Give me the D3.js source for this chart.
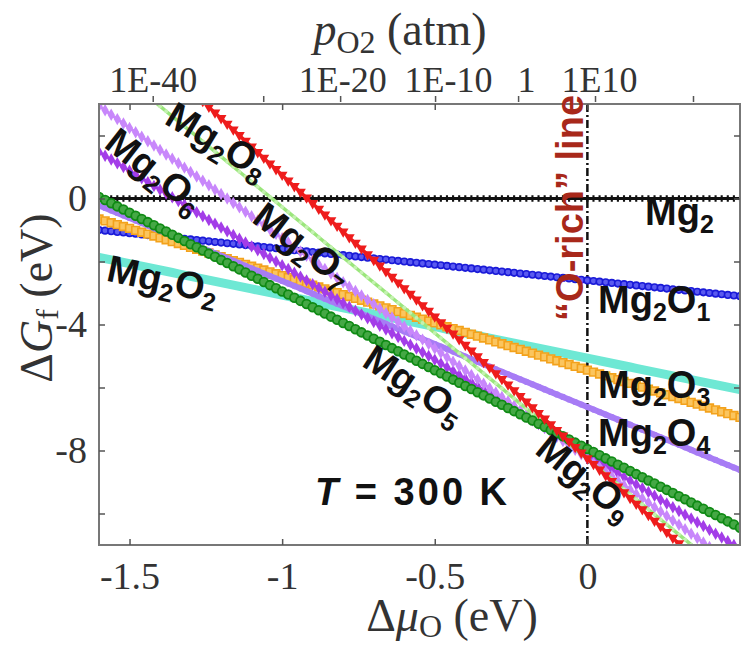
<!DOCTYPE html>
<html>
<head>
<meta charset="utf-8">
<script src="https://cdn.jsdelivr.net/npm/d3@7"></script>
<style>
  body { margin: 0; background: #fff; }
  .lbl { font-family: "Liberation Sans", Arial, sans-serif; font-weight: bold; font-size: 38px; fill: #111; }
</style>
</head>
<body>
<svg id="chart" width="742" height="648"></svg>
<script>
// Mg2On formation free energy vs oxygen chemical potential (T = 300 K)
var species = ["Mg2", "Mg2O1", "Mg2O2", "Mg2O3", "Mg2O4", "Mg2O5", "Mg2O6", "Mg2O7", "Mg2O8", "Mg2O9"];
var nOxygen = [0, 1, 2, 3, 4, 5, 6, 7, 8, 9];
var dGatZero = [0, -2.6, -5.07, -5.45, -6.62, -7.95, -8.12, -8.26, -8.27, -8.25];   // eV at dmu = 0

var xTicks = [-1.5, -1, -0.5, 0];
var yTicks = [2, 0, -2, -4, -6, -8, -10];
var yLabelled = [0, -4, -8];
var pTickMu = [-1.424, -1.062, -0.81, -0.499, -0.227, 0.025, 0.346];
var pTickLabels = ["1E-40", "", "1E-20", "1E-10", "1", "1E10", ""];
var pLabelShift = [0, 0, 2, 13, 8, 4, 0];

// label anchors in data units
var tiltLabels = [
  { n: 8, mu: -1.21, g: 1.85, angle: 31 },
  { n: 6, mu: -1.415, g: 0.90, angle: 38 },
  { n: 7, mu: -0.93, g: -1.45, angle: 37 },
  { n: 5, mu: -0.565, g: -5.9, angle: 33 },
  { n: 9, mu: -0.005, g: -8.85, angle: 39 },
  { n: 2, mu: -1.39, g: -2.55, angle: 12 }
];
var flatLabels = [
  { n: 0, mu: 0.189, g: -0.84 },
  { n: 1, mu: 0.035, g: -3.63 },
  { n: 3, mu: 0.035, g: -6.33 },
  { n: 4, mu: 0.035, g: -7.86 }
];

// styles
var lineColor = ["#111", "#1a1ad8", "#6ee8d4", "#f3a21c", "#a77cf5", "#0f8a14", "#a33de8", "#c887fb", "#9be67c", "#ee1c1c"];
var lineWidth = [3, 3, 9, 4, 6, 2.5, 3, 3, 3.5, 3];
var drawOrder = [0, 2, 1, 3, 4, 6, 7, 8, 5, 9];

var svg = d3.select("#chart"),
    width = +svg.attr("width"),
    height = +svg.attr("height");
var margin = { top: 104, right: 2, bottom: 103, left: 99 };

var x = d3.scaleLinear().domain([-1.6, 0.5]).range([margin.left, width - margin.right]);
var y = d3.scaleLinear().domain([-11, 3]).range([height - margin.bottom, margin.top]);

svg.append("defs").append("clipPath").attr("id", "clip")
  .append("rect")
  .attr("x", x(-1.6)).attr("y", y(3))
  .attr("width", x(0.5) - x(-1.6)).attr("height", y(-11) - y(3));

var plot = svg.append("g").attr("clip-path", "url(#clip)");

var grid = d3.range(-1.6, 0.5001, 0.02);
var line = d3.line().x(function(d) { return x(d.mu); }).y(function(d) { return y(d.g); });

// O-rich vertical line
plot.append("line")
  .attr("x1", x(0)).attr("x2", x(0)).attr("y1", y(3)).attr("y2", y(-11))
  .attr("stroke", "#111").attr("stroke-width", 2.5)
  .attr("stroke-dasharray", "8,3,2,3");

drawOrder.forEach(function(i) {
  var pts = grid.map(function(mu) { return { mu: mu, g: dGatZero[i] - nOxygen[i] * mu }; });
  var g = plot.append("g");
  g.append("path").datum(pts)
    .attr("d", line)
    .attr("fill", "none")
    .attr("stroke", lineColor[i])
    .attr("stroke-width", lineWidth[i]);

  var sym = null, size = 0, fill = lineColor[i], stroke = "none", sw = 0;
  if (i === 0) { sym = d3.symbolCross; size = 22; }
  if (i === 1) { sym = d3.symbolCircle; size = 34; fill = "#5a5af0"; stroke = lineColor[i]; sw = 1.6; }
  if (i === 3) { sym = d3.symbolSquare; size = 60; fill = "#fbc55e"; stroke = lineColor[i]; sw = 1.6; }
  if (i === 4) { sym = d3.symbolCircle; size = 30; }
  if (i === 5) { sym = d3.symbolCircle; size = 60; fill = "#45a845"; stroke = lineColor[i]; sw = 1.8; }
  if (i === 6 || i === 7) { sym = d3.symbolDiamond; size = 45; }
  if (i === 8) { sym = d3.symbolCircle; size = 12; fill = "#c4f2b0"; }
  if (i === 9) { sym = d3.symbolTriangle; size = 50; }
  if (sym) {
    g.selectAll(".m").data(pts).enter().append("path")
      .attr("class", "m")
      .attr("d", d3.symbol().type(sym).size(size))
      .attr("transform", function(d) {
        return "translate(" + x(d.mu) + "," + y(d.g) + ")" + (i === 9 ? " rotate(180)" : "");
      })
      .attr("fill", fill)
      .attr("stroke", stroke)
      .attr("stroke-width", sw);
  }
});

// frame and axes
svg.append("rect")
  .attr("x", x(-1.6)).attr("y", y(3))
  .attr("width", x(0.5) - x(-1.6)).attr("height", y(-11) - y(3))
  .attr("fill", "none").attr("stroke", "#777").attr("stroke-width", 2);

var axisStyle = function(g) {
  g.select(".domain").remove();
  g.selectAll(".tick line").attr("stroke", "#555").attr("stroke-width", 1.5);
  g.selectAll(".tick text").attr("fill", "#333")
    .attr("font-family", "Liberation Serif, serif").attr("font-size", 38);
};

svg.append("g")
  .attr("transform", "translate(0," + y(-11) + ")")
  .call(d3.axisBottom(x).tickValues(xTicks).tickSize(-6).tickPadding(17)
    .tickFormat(function(d) { return String(d); }))
  .call(axisStyle);

svg.append("g")
  .attr("transform", "translate(0," + y(3) + ")")
  .call(d3.axisBottom(x).tickValues(xTicks).tickSize(6).tickFormat(""))
  .call(axisStyle);

svg.append("g")
  .attr("transform", "translate(" + x(-1.6) + ",0)")
  .call(d3.axisLeft(y).tickValues(yTicks).tickSize(-6).tickPadding(12)
    .tickFormat(function(d) { return yLabelled.indexOf(d) >= 0 ? String(d) : ""; }))
  .call(axisStyle);

svg.append("g")
  .attr("transform", "translate(" + x(0.5) + ",0)")
  .call(d3.axisRight(y).tickValues(yTicks).tickSize(-6).tickFormat(""))
  .call(axisStyle);

svg.append("g")
  .attr("transform", "translate(0," + (y(3) - 2) + ")")
  .call(d3.axisTop(x).tickValues(pTickMu).tickSize(6).tickPadding(4)
    .tickFormat(function(d, i) { return pTickLabels[i]; }))
  .call(axisStyle)
  .call(function(g) {
    g.selectAll(".tick text").attr("font-size", 36)
      .attr("dx", function(d, i) { return pLabelShift[i]; });
  });

// axis titles
var serif = "Liberation Serif, serif";
var bt = svg.append("text").attr("x", 452).attr("y", 631).attr("text-anchor", "middle")
  .attr("font-family", serif).attr("font-size", 46).attr("fill", "#333");
bt.append("tspan").text("Δ");
bt.append("tspan").attr("font-style", "italic").text("μ");
bt.append("tspan").attr("font-size", 32).attr("dy", 6).text("O");
bt.append("tspan").attr("dy", -6).text(" (eV)");

var tt = svg.append("text").attr("x", 400).attr("y", 45).attr("text-anchor", "middle")
  .attr("font-family", serif).attr("font-size", 46).attr("fill", "#333");
tt.append("tspan").attr("font-style", "italic").text("p");
tt.append("tspan").attr("font-size", 32).attr("dy", 8).text("O2");
tt.append("tspan").attr("dy", -8).text(" (atm)");

var lt = svg.append("text").attr("transform", "translate(52,298) rotate(-90)").attr("text-anchor", "middle")
  .attr("font-family", serif).attr("font-size", 46).attr("fill", "#333");
lt.append("tspan").text("Δ");
lt.append("tspan").attr("font-style", "italic").text("G");
lt.append("tspan").attr("font-size", 32).attr("dy", 6).text("f");
lt.append("tspan").attr("dy", -6).text(" (eV)");

// species labels
function addFormula(t, n) {
  t.append("tspan").text("Mg");
  t.append("tspan").attr("font-size", 25).attr("dy", 8).text("2");
  if (n > 0) {
    t.append("tspan").attr("dy", -8).text("O");
    t.append("tspan").attr("font-size", 25).attr("dy", 8).text(n);
  }
}

tiltLabels.forEach(function(d) {
  var t = svg.append("text").attr("class", "lbl")
    .attr("transform", "translate(" + x(d.mu) + "," + y(d.g) + ") rotate(" + d.angle + ")")
    .attr("text-anchor", "middle").attr("dy", "0.36em");
  addFormula(t, d.n);
});

flatLabels.forEach(function(d) {
  var t = svg.append("text").attr("class", "lbl").attr("x", x(d.mu)).attr("y", y(d.g));
  addFormula(t, d.n);
});

var tk = svg.append("text").attr("class", "lbl").attr("x", x(-0.892)).attr("y", y(-9.73))
  .attr("font-size", 46).attr("letter-spacing", 3);
tk.append("tspan").attr("font-style", "italic").text("T");
tk.append("tspan").text(" = 300 K");

svg.append("text").attr("class", "lbl")
  .attr("transform", "translate(" + x(-0.014) + "," + y(-0.3) + ") rotate(-90)")
  .attr("text-anchor", "middle").attr("font-size", 31)
  .style("fill", "#a8281a")
  .text("“O-rich” line");
</script>
</body>
</html>
